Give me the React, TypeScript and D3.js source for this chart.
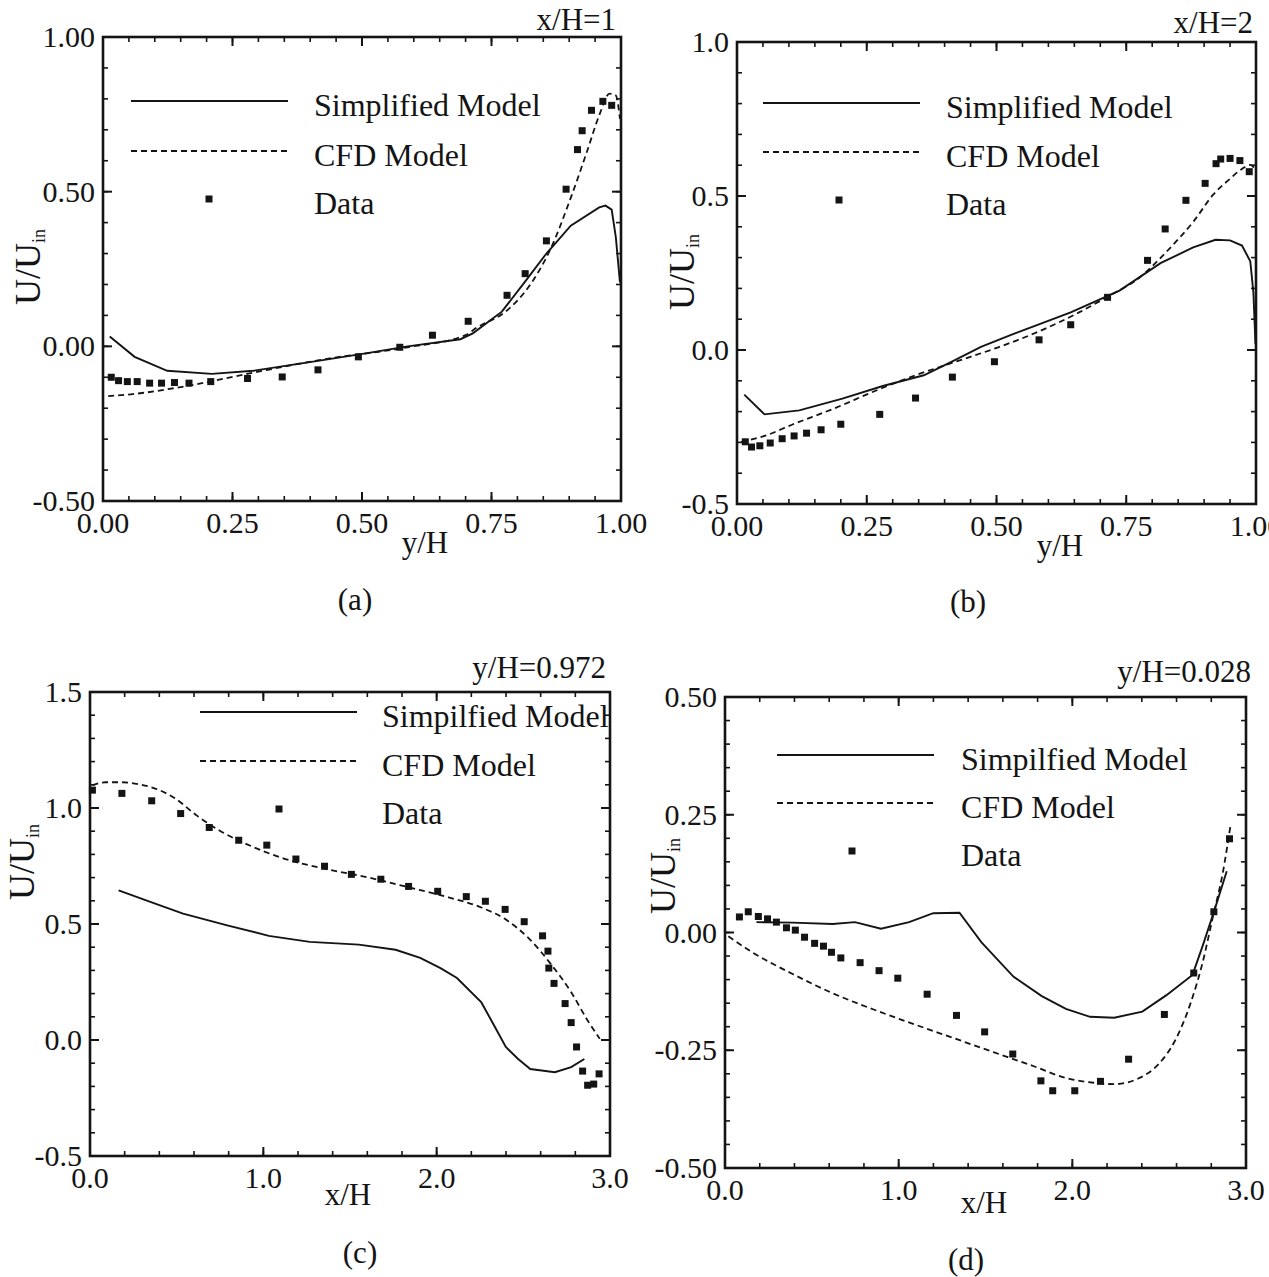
import React from 'react';
import * as d3 from 'd3';

type Pt = [number, number];

// (a) x/H=1 : U/Uin vs y/H
const aSimplified: Pt[] = [
  [0.013, 0.032], [0.061, -0.034], [0.124, -0.079], [0.21, -0.089], [0.29, -0.079],
  [0.415, -0.047], [0.51, -0.022], [0.588, 0.0], [0.69, 0.023], [0.714, 0.042],
  [0.77, 0.112], [0.817, 0.214], [0.856, 0.3], [0.903, 0.39], [0.958, 0.449],
  [0.97, 0.455], [0.982, 0.442], [0.99, 0.353], [0.998, 0.207],
];
const aCFD: Pt[] = [
  [0.01, -0.161], [0.054, -0.155], [0.156, -0.13], [0.29, -0.085], [0.43, -0.041],
  [0.588, -0.003], [0.7, 0.036], [0.722, 0.061], [0.777, 0.112], [0.825, 0.2],
  [0.864, 0.315], [0.903, 0.48], [0.935, 0.633], [0.958, 0.747], [0.978, 0.817],
  [0.99, 0.811], [0.998, 0.735],
];
const aData: Pt[] = [
  [0.016, -0.1], [0.03, -0.111], [0.047, -0.114], [0.066, -0.114], [0.09, -0.119],
  [0.113, -0.119], [0.138, -0.117], [0.166, -0.119], [0.208, -0.114], [0.279, -0.104],
  [0.346, -0.099], [0.415, -0.076], [0.493, -0.034], [0.573, -0.003], [0.636, 0.036],
  [0.705, 0.081], [0.78, 0.165], [0.815, 0.235], [0.856, 0.341], [0.894, 0.508],
  [0.916, 0.636], [0.925, 0.697], [0.943, 0.763], [0.965, 0.792], [0.982, 0.779],
];

// (b) x/H=2 : U/Uin vs y/H
const bSimplified: Pt[] = [
  [0.014, -0.145], [0.053, -0.209], [0.12, -0.196], [0.203, -0.158], [0.281, -0.117],
  [0.36, -0.082], [0.415, -0.037], [0.47, 0.01], [0.533, 0.052], [0.643, 0.122],
  [0.737, 0.193], [0.816, 0.282], [0.879, 0.333], [0.922, 0.358], [0.95, 0.356],
  [0.973, 0.339], [0.989, 0.288], [0.995, 0.186], [0.999, 0.02],
];
const bCFD: Pt[] = [
  [0.008, -0.298], [0.053, -0.279], [0.108, -0.241], [0.187, -0.19], [0.266, -0.133],
  [0.344, -0.082], [0.423, -0.037], [0.502, 0.008], [0.58, 0.059], [0.659, 0.122],
  [0.714, 0.173], [0.777, 0.237], [0.832, 0.327], [0.879, 0.416], [0.918, 0.505],
  [0.95, 0.556], [0.973, 0.588], [0.989, 0.601], [1.0, 0.582],
];
const bData: Pt[] = [
  [0.016, -0.298], [0.028, -0.315], [0.044, -0.311], [0.064, -0.302], [0.087, -0.288],
  [0.11, -0.279], [0.134, -0.27], [0.162, -0.259], [0.2, -0.241], [0.275, -0.209],
  [0.344, -0.156], [0.415, -0.088], [0.496, -0.038], [0.582, 0.033], [0.643, 0.082],
  [0.714, 0.171], [0.791, 0.291], [0.825, 0.393], [0.865, 0.486], [0.902, 0.541],
  [0.923, 0.605], [0.932, 0.62], [0.95, 0.622], [0.969, 0.615], [0.987, 0.579],
];

// (c) y/H=0.972 : U/Uin vs x/H
const cSimplified: Pt[] = [
  [0.165, 0.645], [0.372, 0.589], [0.537, 0.545], [0.797, 0.493], [1.032, 0.449],
  [1.268, 0.423], [1.551, 0.411], [1.763, 0.389], [1.905, 0.354], [2.022, 0.31],
  [2.117, 0.267], [2.258, 0.162], [2.329, 0.066], [2.399, -0.03], [2.47, -0.082],
  [2.54, -0.125], [2.682, -0.139], [2.776, -0.117], [2.852, -0.082],
];
const cCFD: Pt[] = [
  [0.014, 1.098], [0.09, 1.111], [0.184, 1.111], [0.278, 1.103], [0.372, 1.085],
  [0.49, 1.042], [0.608, 0.972], [0.749, 0.902], [0.938, 0.833], [1.127, 0.78],
  [1.362, 0.737], [1.598, 0.702], [1.834, 0.659], [2.069, 0.615], [2.258, 0.571],
  [2.399, 0.519], [2.54, 0.432], [2.658, 0.328], [2.776, 0.206], [2.871, 0.084],
  [2.941, 0.005],
];
const cData: Pt[] = [
  [0.014, 1.077], [0.184, 1.063], [0.356, 1.031], [0.523, 0.976], [0.688, 0.916],
  [0.858, 0.861], [1.02, 0.84], [1.188, 0.78], [1.353, 0.749], [1.508, 0.714],
  [1.678, 0.693], [1.838, 0.662], [2.006, 0.641], [2.171, 0.618], [2.281, 0.598],
  [2.395, 0.563], [2.505, 0.51], [2.611, 0.449], [2.642, 0.383], [2.647, 0.31],
  [2.677, 0.244], [2.741, 0.157], [2.776, 0.075], [2.807, -0.03], [2.842, -0.134],
  [2.871, -0.195], [2.906, -0.19], [2.937, -0.146],
];

// (d) y/H=0.028 : U/Uin vs x/H
const dSimplified: Pt[] = [
  [0.181, 0.022], [0.389, 0.021], [0.62, 0.018], [0.748, 0.022], [0.898, 0.008],
  [1.06, 0.022], [1.199, 0.041], [1.35, 0.042], [1.477, -0.021], [1.662, -0.094],
  [1.824, -0.135], [1.963, -0.162], [2.102, -0.179], [2.241, -0.181], [2.403, -0.168],
  [2.542, -0.133], [2.692, -0.09], [2.75, -0.029], [2.819, 0.048], [2.889, 0.13],
];
const dCFD: Pt[] = [
  [0.019, -0.008], [0.157, -0.042], [0.389, -0.088], [0.62, -0.129], [0.852, -0.163],
  [1.083, -0.194], [1.315, -0.224], [1.546, -0.254], [1.778, -0.284], [1.963, -0.309],
  [2.125, -0.319], [2.241, -0.322], [2.38, -0.31], [2.495, -0.28], [2.588, -0.232],
  [2.681, -0.15], [2.75, -0.064], [2.808, 0.031], [2.866, 0.126], [2.912, 0.23],
];
const dData: Pt[] = [
  [0.083, 0.033], [0.134, 0.044], [0.192, 0.034], [0.245, 0.029], [0.296, 0.022],
  [0.354, 0.01], [0.405, 0.005], [0.458, -0.01], [0.516, -0.023], [0.567, -0.029],
  [0.613, -0.042], [0.667, -0.054], [0.778, -0.064], [0.887, -0.081], [0.995, -0.097],
  [1.164, -0.131], [1.333, -0.176], [1.495, -0.211], [1.657, -0.258], [1.819, -0.315],
  [1.887, -0.336], [2.014, -0.336], [2.162, -0.316], [2.324, -0.269], [2.53, -0.174],
  [2.699, -0.086], [2.815, 0.044], [2.905, 0.199],
];

// ticks and labels
const yhTicks = [0, 0.25, 0.5, 0.75, 1];
const xhTicks = [0, 1, 2, 3];
const aYTicks = [-0.5, 0, 0.5, 1];
const bYTicks = [-0.5, 0, 0.5, 1];
const cYTicks = [-0.5, 0, 0.5, 1, 1.5];
const dYTicks = [-0.5, -0.25, 0, 0.25, 0.5];
const legendAB = ['Simplified Model', 'CFD Model', 'Data'];
const legendCD = ['Simpilfied Model', 'CFD Model', 'Data'];

const INK = '#141414';
const FONT = '"Liberation Serif", "Times New Roman", serif';

const fmt = (spec: string) => {
  const f = d3.format(spec);
  return (v: number) => f(v).replace('\u2212', '-');
};

const panels = [
  {
    sim: aSimplified, cfd: aCFD, data: aData, names: legendAB,
    xDomain: [0, 1], yDomain: [-0.5, 1], xTicks: yhTicks, yTicks: aYTicks,
    xMinor: 0.05, yMinor: 0.1, xFmt: '.2f', yFmt: '.2f',
    box: { l: 103, t: 37, r: 621, b: 501 },
    legend: { x1: 131, x2: 288, mx: 209, tx: 314, rows: [101, 151, 199] },
    title: 'x/H=1', titlePos: [616, 30], xLabel: 'y/H', xLabelPos: [425, 553],
    yLabelPos: [40, 267], tag: '(a)', tagPos: [355, 610],
  },
  {
    sim: bSimplified, cfd: bCFD, data: bData, names: legendAB,
    xDomain: [0, 1], yDomain: [-0.5, 1], xTicks: yhTicks, yTicks: bYTicks,
    xMinor: 0.05, yMinor: 0.1, xFmt: '.2f', yFmt: '.1f',
    box: { l: 737, t: 42, r: 1256, b: 504 },
    legend: { x1: 763, x2: 920, mx: 839, tx: 946, rows: [103, 152, 200] },
    title: 'x/H=2', titlePos: [1253, 33], xLabel: 'y/H', xLabelPos: [1060, 556],
    yLabelPos: [694, 272], tag: '(b)', tagPos: [968, 612],
  },
  {
    sim: cSimplified, cfd: cCFD, data: cData, names: legendCD,
    xDomain: [0, 3], yDomain: [-0.5, 1.5], xTicks: xhTicks, yTicks: cYTicks,
    xMinor: 0.2, yMinor: 0.1, xFmt: '.1f', yFmt: '.1f',
    box: { l: 90, t: 692, r: 610, b: 1156 },
    legend: { x1: 200, x2: 357, mx: 279, tx: 382, rows: [712, 761, 809] },
    title: 'y/H=0.972', titlePos: [606, 678], xLabel: 'x/H', xLabelPos: [348, 1205],
    yLabelPos: [34, 862], tag: '(c)', tagPos: [360, 1263],
  },
  {
    sim: dSimplified, cfd: dCFD, data: dData, names: legendCD,
    xDomain: [0, 3], yDomain: [-0.5, 0.5], xTicks: xhTicks, yTicks: dYTicks,
    xMinor: 0.2, yMinor: 0.05, xFmt: '.1f', yFmt: '.2f',
    box: { l: 725, t: 697, r: 1246, b: 1168 },
    legend: { x1: 777, x2: 934, mx: 852, tx: 961, rows: [755, 803, 851] },
    title: 'y/H=0.028', titlePos: [1251, 682], xLabel: 'x/H', xLabelPos: [984, 1213],
    yLabelPos: [675, 876], tag: '(d)', tagPos: [966, 1270],
  },
];

const Panel = ({ p }: { p: any }) => {
  const { l, t, r, b } = p.box;
  const x = d3.scaleLinear().domain(p.xDomain).range([l, r]);
  const y = d3.scaleLinear().domain(p.yDomain).range([b, t]);
  const line = d3.line<Pt>().x(d => x(d[0])).y(d => y(d[1]));
  const smooth = d3.line<Pt>().x(d => x(d[0])).y(d => y(d[1])).curve(d3.curveMonotoneX);
  const xf = fmt(p.xFmt);
  const yf = fmt(p.yFmt);

  const eps = 1e-9;
  const xMinor = d3.range(p.xDomain[0], p.xDomain[1] + eps, p.xMinor);
  const yMinor = d3.range(p.yDomain[0], p.yDomain[1] + eps, p.yMinor);
  const MAJ = 9, MIN = 5;

  return (
    <g>
      {/* minor ticks */}
      {xMinor.map((v, i) => (
        <g key={'xm' + i} stroke={INK} strokeWidth={1.6}>
          <line x1={x(v)} x2={x(v)} y1={b} y2={b - MIN} />
          <line x1={x(v)} x2={x(v)} y1={t} y2={t + MIN} />
        </g>
      ))}
      {yMinor.map((v, i) => (
        <g key={'ym' + i} stroke={INK} strokeWidth={1.6}>
          <line x1={l} x2={l + MIN} y1={y(v)} y2={y(v)} />
          <line x1={r} x2={r - MIN} y1={y(v)} y2={y(v)} />
        </g>
      ))}
      {/* major ticks + labels */}
      {p.xTicks.map((v: number, i: number) => (
        <g key={'xt' + i}>
          <line x1={x(v)} x2={x(v)} y1={b} y2={b - MAJ} stroke={INK} strokeWidth={2} />
          <line x1={x(v)} x2={x(v)} y1={t} y2={t + MAJ} stroke={INK} strokeWidth={2} />
          <text x={x(v)} y={b + 32} textAnchor="middle" fontSize={30}>{xf(v)}</text>
        </g>
      ))}
      {p.yTicks.map((v: number, i: number) => (
        <g key={'yt' + i}>
          <line x1={l} x2={l + MAJ} y1={y(v)} y2={y(v)} stroke={INK} strokeWidth={2} />
          <line x1={r} x2={r - MAJ} y1={y(v)} y2={y(v)} stroke={INK} strokeWidth={2} />
          <text x={l - 8} y={y(v) + 10} textAnchor="end" fontSize={30}>{yf(v)}</text>
        </g>
      ))}
      <rect x={l} y={t} width={r - l} height={b - t} fill="none" stroke={INK} strokeWidth={2.6} />

      {/* series */}
      <path d={line(p.sim) || ''} fill="none" stroke={INK} strokeWidth={1.9} />
      <path d={smooth(p.cfd) || ''} fill="none" stroke={INK} strokeWidth={1.8} strokeDasharray="6 4" />
      {p.data.map((d: Pt, i: number) => (
        <rect key={'d' + i} x={x(d[0]) - 3.5} y={y(d[1]) - 3.5} width={7} height={7} fill={INK} />
      ))}

      {/* legend */}
      <line x1={p.legend.x1} x2={p.legend.x2} y1={p.legend.rows[0]} y2={p.legend.rows[0]} stroke={INK} strokeWidth={1.9} />
      <line x1={p.legend.x1} x2={p.legend.x2} y1={p.legend.rows[1]} y2={p.legend.rows[1]} stroke={INK} strokeWidth={1.8} strokeDasharray="6 4" />
      <rect x={p.legend.mx - 3.5} y={p.legend.rows[2] - 3.5} width={7} height={7} fill={INK} />
      {p.names.map((n: string, i: number) => (
        <text key={'ln' + i} x={p.legend.tx} y={p.legend.rows[i] + 15} fontSize={32}>{n}</text>
      ))}

      {/* labels */}
      <text x={p.titlePos[0]} y={p.titlePos[1]} textAnchor="end" fontSize={31}>{p.title}</text>
      <text x={p.xLabelPos[0]} y={p.xLabelPos[1]} textAnchor="middle" fontSize={31}>{p.xLabel}</text>
      <text transform={`translate(${p.yLabelPos[0]},${p.yLabelPos[1]}) rotate(-90)`} textAnchor="middle" fontSize={36}>
        U/U<tspan fontSize={18} dy={5}>in</tspan>
      </text>
      <text x={p.tagPos[0]} y={p.tagPos[1]} textAnchor="middle" fontSize={31}>{p.tag}</text>
    </g>
  );
};

const App = () => (
  <svg
    width={1269}
    height={1277}
    style={{ position: 'absolute', left: 0, top: 0, background: '#fff' }}
    fontFamily={FONT}
    fill={INK}
  >
    <rect width={1269} height={1277} fill="#fff" />
    {panels.map((p, i) => <Panel key={i} p={p} />)}
  </svg>
);

export default App;
